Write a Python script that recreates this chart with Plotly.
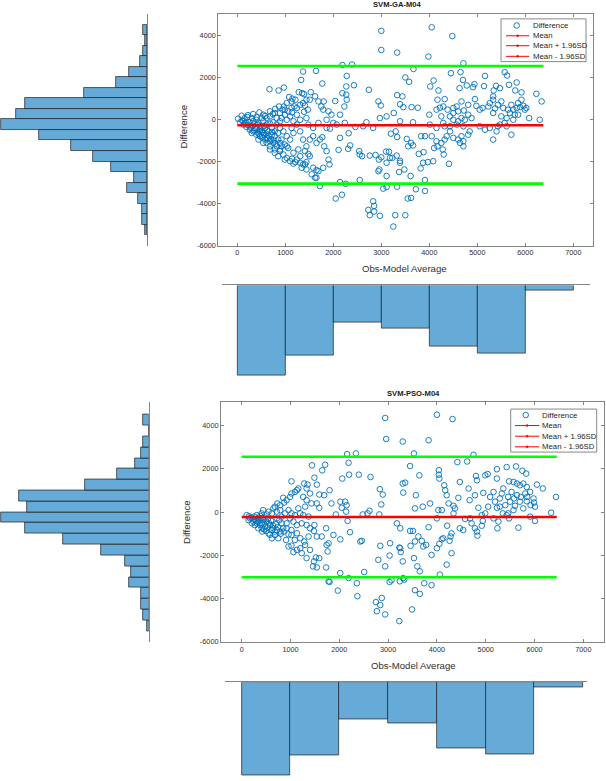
import plotly.graph_objects as go

W, H = 606, 781
FONT = "Liberation Sans, Arial, sans-serif"


def px(x):
    return x / W


def py(y):
    return 1 - y / H


# ------------------------------------------------------------------
# Panel 1 : SVM-GA-M04  (Bland-Altman: average vs difference)
# ------------------------------------------------------------------
ga_avg_upper = [3000, 4050, 4480, 3000, 3330, 3980, 4710, 2190, 2390, 3670,
                1640, 1370, 4450, 4650, 5570, 5620, 5160, 2280, 3500, 4090,
                4700, 3580, 1330, 1770, 5820, 2430, 2270, 4020, 4780, 4940,
                4910, 5140, 5390, 5660, 5470, 4630, 6230, 5340, 5790, 5920,
                4190, 2740, 670, 970, 860, 1530, 1280, 1350, 1390, 1080,
                1150, 1210, 1800, 2190, 2270, 2280, 2940, 3330, 3440, 3390,
                3630, 3760, 2990, 2230, 2040, 1750, 1410, 1470, 1390, 1140,
                1190, 970, 940, 790, 890, 740, 680, 580, 460, 330,
                220, 90, 15, 150, 210, 400, 540]
ga_diff_upper = [4200, 4370, 3950, 3290, 3170, 2980, 2660, 2580, 2600, 2390,
                 2300, 2270, 2190, 2240, 2240, 2080, 2060, 2060, 1990, 1840,
                 1870, 1780, 1870, 1700, 1750, 1620, 1560, 1560, 1610, 1670,
                 1530, 1580, 1590, 1640, 1480, 1480, 1210, 1370, 1370, 1280,
                 1370, 1400, 1430, 1510, 1370, 1290, 1290, 1240, 1200, 1060,
                 980, 930, 850, 1240, 1170, 930, 850, 1150, 1090, 720,
                 580, 550, 660, 610, 870, 610, 650, 460, 360, 330,
                 610, 610, 460, 500, 300, 250, 140, 160, 330, 250,
                 200, 170, 30, 60, 110, 110, 220]

ga_avg_right = [4170, 4320, 4290, 4220, 4380, 4430, 4250, 4150, 4000, 4500,
                4570, 4670, 4600, 4720, 4810, 4950, 4980, 5050, 5110, 5230,
                5260, 5330, 5330, 5370, 5430, 5500, 5540, 5640, 5710, 5750,
                5820, 5890, 5960, 5990, 5850, 5920, 6020, 6080, 6300, 6340,
                5680, 5610, 5570, 5470, 5430, 5610, 5400, 5330, 5710, 5260,
                5160, 5050, 4710, 4670, 4600, 4500, 4430, 4360, 4500, 4600,
                4710, 4670, 4810, 4840, 4710, 4640, 4570, 4430, 4320, 4290,
                4740, 4810, 4880, 4500, 5780, 5850, 5330, 5500, 5750]
ga_diff_right = [930, 960, 610, 550, 460, 140, 140, 460, 220, 300,
                 610, 850, 380, 420, 690, 960, 640, 460, 540, 610,
                 770, 1090, 930, 520, 690, 850, 540, 460, 690, 460,
                 540, 580, 640, 460, 770, 930, 540, 60, -20, 850,
                 300, 60, -170, -250, -330, -330, -570, -960, -730, -410,
                 -490, -330, -330, 60, -90, -20, -570, -800, -880, -960,
                 -1040, -800, -730, -570, -1280, -1120, -250, -330, -330, -170,
                 -20, 220, 60, 540, 220, 220, 300, 140, -20]

ga_avg_mid = [2830, 2620, 2690, 2460, 2240, 2070, 1930, 2140, 2320, 2540,
              2350, 2310, 2110, 2550, 2760, 2880, 2950, 3100, 3160, 3230,
              3200, 3300, 3330, 3390, 3530, 3560, 3620, 3660, 3780, 3880,
              3830, 3910, 3870, 3970, 3820, 3480, 3370, 3320, 3390, 3110,
              2940, 2960, 3110, 3610, 2550, 2260, 2140, 2180, 2050, 3040,
              3110, 3330, 3550, 3620, 3720, 3910, 3290, 3500, 2730, 2760,
              2850, 2830, 2970, 2850, 3250, 3000, 3180, 2600, 3910, 4080,
              4170, 4100, 4150, 4250, 4280, 4300, 4320, 4410, 4050, 4150,
              4010, 3390, 3660, 3110, 2970, 3460, 3260, 2140]
ga_diff_mid = [-410, -330, -140, -360, -170, -250, -440, -880, -660, -1510,
               -1240, -1400, -1450, -1670, -1720, -1690, -1910, -1530, -1540, -1830,
               -680, -570, -840, -1970, -930, -1280, -1120, -1240, -1640, -1560,
               -800, -800, -2060, -2030, -2330, -2380, -2500, -1720, -2060, -2060,
               -2460, -2380, -2690, -2690, -2880, -3060, -2980, -3580, -3760, -3290,
               -3210, -3200, -3760, -3730, -3320, -3400, -4550, -4550, -4300, -4550,
               -4110, -3890, -4580, -4380, -5090, -1800, -1830, -1750, -2880, -1990,
               -1280, -1360, -1040, -1120, -1430, -1670, -960, -2110, -800, -410,
               -250, -90, -140, 140, 60, 580, 300, 220]

ga_avg_left = [260, 370, 470, 540, 470, 610, 680, 750, 820, 780,
               890, 960, 1030, 1140, 1210, 1310, 1370, 1440, 1550, 1620,
               1650, 1720, 1650, 1510, 1480, 1410, 1270, 1170, 1060, 990,
               920, 850, 780, 720, 610, 540, 440, 330, 190, 130,
               470, 580, 650, 720, 780, 850, 920, 1030, 1100, 1170,
               1130, 1240, 1310, 1370, 1440, 1510, 1580, 1650, 1720, 1770,
               1810, 1860, 1900, 1920, 1790, 1690, 1580, 1410, 1340, 1440,
               1240, 1170, 1100, 1310, 990, 850, 890, 680, 610, 580,
               510, 400, 330, 260, 190, 130, 60, 300, 440, 540,
               680, 780, 890, 1030, 960, 890, 820, 750, 680]
ga_diff_left = [-330, -410, -570, -650, -800, -880, -1040, -1120, -1280, -1430,
                -1510, -1670, -1830, -1870, -2030, -2060, -2140, -2380, -2610, -2770,
                -2770, -3170, -2410, -1750, -1650, -1510, -1430, -1590, -1360, -1200,
                -960, -650, -570, -410, -250, -90, -170, -90, -170, -90,
                -330, -410, -570, -730, -800, -960, -1280, -1280, -960, -650,
                -410, -250, -570, -960, -1280, -960, -800, -1120, -960, -850,
                -1280, -1510, -1910, -2140, -2300, -2460, -2300, -2140, -2300, -2030,
                -1910, -2100, -1990, -1750, -1910, -1750, -1430, -1280, -1120, -960,
                -840, -730, -570, -490, -360, -250, -140, -650, -960, -1120,
                -1430, -1590, -1120, -800, -570, -410, -250, -140, -200]

ga_avg_near0 = [1030, 1100, 1170, 1240, 1310, 1440, 1480, 1580, 1690, 1860,
                1960, 2000, 1860, 890, 920, 820, 610, 510, 400, 300,
                680, 780, 990, 1060, 1130, 1240, 1310, 1370, 1440, 1510,
                1620, 1690, 1790, 1900, 1130, 1030, 990, 870,
                100, 160, 220, 280, 320, 350, 400, 420, 450, 480,
                500, 520, 560, 600, 620, 640, 660, 700, 720, 760,
                800, 360, 250, 560, 430]
ga_diff_near0 = [-20, 140, -90, 220, -20, 60, -250, -410, -170, -20,
                 220, -170, -410, -90, 60, 60, 60, 60, -20, 60,
                 380, 300, 220, 380, 540, 540, 690, 770, 930, 930,
                 1090, 850, 460, 380, 850, 770, 460, 610,
                 -60, -200, -280, -400, -300, -520, -450, -620, -700, -500,
                 -380, -600, -750, -680, -520, -900, -780, -950, -600, -1000,
                 -1150, -200, -130, -300, -250]

ga_mean, ga_loa_upper, ga_loa_lower = -280, 2530, -3050
ga_avg_max = 6375

diff_bin_centers = list(range(-5250, 4500, 500))
ga_diff_hist = [1, 3, 3, 5, 11, 7, 20, 30, 42, 60, 81, 73, 68, 35, 17, 10, 4, 2, 1, 2]
avg_bin_centers = [500, 1500, 2500, 3500, 4500, 5500, 6500]
ga_avg_hist = [114, 89, 47, 55, 78, 86, 6]

# ------------------------------------------------------------------
# Panel 2 : SVM-PSO-M04
# ------------------------------------------------------------------
pso_avg_upper = [2940, 4000, 4320, 2960, 3300, 3830, 2160, 2340, 3530, 4750,
                 4420, 4620, 1440, 1710, 2190, 1650, 3450, 4040, 4040, 4050,
                 3640, 2400, 2200, 2060, 2640, 1490, 1020, 1540, 1280, 1350,
                 4150, 4170, 4200, 4470, 4650, 4820, 4800, 4990, 5040, 5230,
                 5230, 5430, 5620, 5750, 5830, 6050, 6170, 6440, 6340, 5480,
                 5570, 5640, 5700, 5770, 5840, 5980, 5990, 6010, 6010, 5910,
                 5670, 5430, 5480, 5260, 5240, 5160, 4990, 4920, 4940, 4920,
                 4820, 4830, 4780, 4710, 4680, 4580, 4540, 4470, 4300, 4280,
                 4260, 4300, 4200, 4060, 4130, 4100, 4050, 4000, 4210, 4000,
                 4340, 4370, 4340, 4100, 4030, 4240, 4440, 4670, 4780, 4950,
                 5090, 5160, 5290, 5330, 5360, 5460, 5530, 5580, 5640, 5720,
                 5810, 5850, 5910, 5500, 5400, 5290, 5190, 5050, 4850, 5600,
                 5700, 5770, 5570, 5460, 5350, 5230, 5920, 5840]
pso_diff_upper = [4350, 4500, 4300, 3380, 3260, 3320, 2680, 2710, 2710, 2650,
                  2310, 2340, 2160, 2190, 2280, 1930, 2130, 1940, 1730, 1550,
                  1700, 1730, 1730, 1550, 1620, 1590, 1420, 1270, 1320, 1270,
                  1240, 1010, 780, 1390, 1090, 1470, 1670, 1700, 1760, 1980,
                  1550, 2080, 2110, 1910, 1780, 1270, 1090, 700, -30, 1420,
                  1390, 1320, 1240, 1320, 1160, 630, 440, 250, -410, -210,
                  -720, -140, -290, -440, -750, -290, -60, -140, -410, -630,
                  -900, -1090, -750, -520, -290, -320, -830, -750, -980, -1130,
                  -1330, -1900, -2430, -2890, -1210, -1260, -1470, -1670, -630, -290,
                  -60, 170, 290, 90, 90, 400, 660, 550, 780, 890,
                  700, 930, 630, 860, 1090, 700, 930, 630, 780, 700,
                  860, 700, 930, 480, 320, 250, 480, 250, 200, 290,
                  480, 170, 90, -60, -60, 200, 320, 500]

pso_avg_mid = [2020, 1970, 1800, 2190, 2360, 2370, 2510, 2770, 2750, 2870,
               2840, 2940, 3230, 3030, 3070, 3240, 3330, 3310, 3550, 3650,
               3740, 3890, 3490, 2800, 2840, 2940, 3040, 3030, 3230, 3250,
               3260, 3300, 3180, 3250, 3450, 3510, 3550, 3460, 3530, 3600,
               3650, 3620, 3690, 3720, 3780, 3890, 3830, 3710, 3860, 3570,
               3550, 3310, 3300, 3350, 2830, 2890, 2860, 2820, 2620, 2580,
               2480, 2460, 2430, 2220, 2170, 2140, 2150, 2120, 2050, 2020,
               2020, 1930, 1880, 1840, 1800, 1690, 1590, 1540, 1590, 1490,
               1480, 1540, 1640, 1730, 1740, 1760, 1780, 1730, 1780, 1590,
               1520, 1480, 1460, 1540]
pso_diff_mid = [-2820, -3630, -3230, -3050, -3290, -3890, -2770, -4580, -4160, -3970,
                -4300, -4730, -5040, -3230, -3150, -3200, -3120, -3050, -3610, -3780,
                -3290, -3380, -4500, -2210, -1560, -2510, -1440, -2010, -1640, -1670,
                -1850, -2280, -520, -750, -870, -870, -1360, -1560, -2130, -2510,
                -2740, -1130, -1330, -1590, -1520, -1980, -700, 250, 400, 780,
                170, 900, 1320, 1360, 1060, 810, 350, -110, 60, -60,
                -110, -1330, -1360, -930, -410, 20, 320, 480, 200, 480,
                -1260, -110, -1060, 400, 1010, 780, 810, 400, 200, -600,
                -870, -1130, -1130, -750, -1520, -1820, -1440, -2560, -3200, -2130,
                -2100, -2280, -2510, -2560]

pso_avg_left = [1330, 1230, 1300, 1400, 1200, 1130, 1060, 1020, 960, 910,
                960, 1020, 1130, 1200, 1280, 1370, 1400, 1330, 1230, 1130,
                1060, 990, 920, 850, 790, 750, 680, 620, 550, 500,
                410, 380, 310, 240, 170, 100, 260, 340, 440, 510,
                580, 650, 720, 620, 480, 410, 340, 270, 210, 140,
                310, 410, 510, 620, 720, 790, 680, 790, 870, 920,
                990, 1020, 1090, 1130, 1160, 850, 730, 650, 550, 440,
                890, 1020, 1160, 1200, 1300, 1330, 1260, 1400, 1330, 1430,
                1260, 1370, 1090, 960, 820, 720, 920, 1020, 1090, 820,
                200, 280, 330, 360, 400, 450, 470, 520, 560, 600,
                640, 700, 740, 770, 800, 860, 300, 380, 460, 540,
                580, 680, 240, 150, 420]
pso_diff_left = [-2130, -1900, -1520, -1750, -1670, -1750, -1850, -1550, -1590, -1290,
                 -1030, -1060, -980, -1210, -1360, -1130, -750, -600, -520, -600,
                 -440, -290, -520, -750, -900, -1210, -1060, -1210, -980, -870,
                 -750, -600, -520, -440, -290, -140, -210, -290, -370, -440,
                 -600, -750, -830, -830, -670, -520, -750, -600, -520, -370,
                 -140, -60, -110, -60, 20, 90, 250, 320, 440, 550,
                 700, 860, 930, 1010, 1090, 660, 400, 170, 20, 90,
                 -60, -60, 170, -60, 250, 550, 700, 860, 1090, 400,
                 -140, -210, -140, 90, -210, -290, -750, -830, -1290, -520,
                 -250, -330, -450, -380, -280, -550, -250, -700, -520, -400,
                 -620, -560, -700, -380, -1000, -900, -420, -180, -800, -300,
                 -1050, -900, -330, -200, -900]

pso_mean, pso_loa_upper, pso_loa_lower = -230, 2557, -3016
pso_avg_max = 6455

pso_diff_hist = [1, 3, 4, 4, 10, 9, 12, 24, 43, 62, 74, 61, 65, 32, 16, 7, 4, 3, 0, 3]
pso_avg_hist = [105, 83, 42, 46, 75, 82, 6]

x_tick_vals = [0, 1000, 2000, 3000, 4000, 5000, 6000, 7000]
x_tick_text = ["0", "1000", "2000", "3000", "4000", "5000", "6000", "7000"]
y_tick_vals = [-6000, -4000, -2000, 0, 2000, 4000]
y_tick_text = ["-6000", "-4000", "-2000", "0", "2000", "4000"]
legend_labels = ["Difference", "Mean", "Mean + 1.96SD", "Mean - 1.96SD"]

BLUE = "rgb(0,114,189)"
HIST_FILL = "rgb(102,170,215)"
HIST_EDGE = "#1e1e1e"
AXIS_GRAY = "#858585"
TEXT = "#303030"

fig = go.Figure()


def add_panel(sfx, avg, diff, mean, up, lo, avg_max, dh, ah):
    xs, ys = "x" + sfx[0], "y" + sfx[0]
    xl, yl = "x" + sfx[1], "y" + sfx[1]
    xb, yb = "x" + sfx[2], "y" + sfx[2]
    fig.add_trace(go.Scatter(x=avg, y=diff, mode="markers", xaxis=xs, yaxis=ys,
                             marker=dict(symbol="circle-open", size=5.6, color=BLUE,
                                         line=dict(width=0.9, color=BLUE))))
    for val, col in ((mean, "rgb(255,0,0)"), (up, "rgb(0,255,0)"), (lo, "rgb(0,255,0)")):
        fig.add_trace(go.Scatter(x=[0, avg_max], y=[val, val], mode="lines",
                                 xaxis=xs, yaxis=ys,
                                 line=dict(color=col, width=2.6)))
    fig.add_trace(go.Bar(y=diff_bin_centers, x=dh, orientation="h", width=500,
                         xaxis=xl, yaxis=yl,
                         marker=dict(color=HIST_FILL, line=dict(color=HIST_EDGE, width=0.7))))
    fig.add_trace(go.Bar(x=avg_bin_centers, y=ah, width=1000, xaxis=xb, yaxis=yb,
                         marker=dict(color=HIST_FILL, line=dict(color=HIST_EDGE, width=0.7))))


add_panel(["", "2", "3"], ga_avg_upper + ga_avg_right + ga_avg_mid + ga_avg_left + ga_avg_near0,
          ga_diff_upper + ga_diff_right + ga_diff_mid + ga_diff_left + ga_diff_near0,
          ga_mean, ga_loa_upper, ga_loa_lower, ga_avg_max, ga_diff_hist, ga_avg_hist)
add_panel(["4", "5", "6"], pso_avg_upper + pso_avg_mid + pso_avg_left,
          pso_diff_upper + pso_diff_mid + pso_diff_left,
          pso_mean, pso_loa_upper, pso_loa_lower, pso_avg_max, pso_diff_hist, pso_avg_hist)

tickfont = dict(family=FONT, size=7.3, color=TEXT)


def sc_x(domain, rng, anchor):
    return dict(domain=domain, range=rng, anchor=anchor, tickvals=x_tick_vals,
                ticktext=x_tick_text, ticks="inside", ticklen=3, tickwidth=0.8,
                tickcolor=AXIS_GRAY, showline=True, linecolor=AXIS_GRAY, linewidth=1,
                mirror="ticks", showgrid=False, zeroline=False, tickfont=tickfont)


def sc_y(domain, rng, anchor):
    return dict(domain=domain, range=rng, anchor=anchor, tickvals=y_tick_vals,
                ticktext=y_tick_text, ticks="inside", ticklen=3, tickwidth=0.8,
                tickcolor=AXIS_GRAY, showline=True, linecolor=AXIS_GRAY, linewidth=1,
                mirror="ticks", showgrid=False, zeroline=False, tickfont=tickfont)


hidden = dict(visible=False)

layout_axes = dict(
    # panel 1 scatter
    xaxis=sc_x([px(218.3), px(593)], [-396, 7410], "y"),
    yaxis=sc_y([py(247.3), py(14)], [-6000, 5005], "x"),
    # panel 1 left histogram
    xaxis2=dict(domain=[0, px(147)], range=[81.7, 0], anchor="y2", visible=False),
    yaxis2=dict(domain=[py(247.3), py(14)], range=[-6000, 5005], anchor="x2", side="right",
                showline=True, linecolor=AXIS_GRAY, linewidth=1, showticklabels=False,
                ticks="", showgrid=False, zeroline=False),
    # panel 1 bottom histogram
    xaxis3=dict(domain=[px(221.7), px(590)], range=[-325, 7348], anchor="y3", side="top",
                showline=True, linecolor=AXIS_GRAY, linewidth=1, showticklabels=False,
                ticks="", showgrid=False, zeroline=False),
    yaxis3=dict(domain=[py(382.3), py(287.3)], range=[119.9, 0], anchor="x3", visible=False),
    # panel 2 scatter
    xaxis4=sc_x([px(221), px(604.3)], [-424, 7430], "y4"),
    yaxis4=sc_y([py(646), py(405)], [-6000, 5070], "x4"),
    # panel 2 left histogram
    xaxis5=dict(domain=[0, px(148.7)], range=[74.7, 0], anchor="y5", visible=False),
    yaxis5=dict(domain=[py(646), py(405)], range=[-6000, 5070], anchor="x5", side="right",
                showline=True, linecolor=AXIS_GRAY, linewidth=1, showticklabels=False,
                ticks="", showgrid=False, zeroline=False),
    # panel 2 bottom histogram
    xaxis6=dict(domain=[px(225), px(586.7)], range=[-342, 7070], anchor="y6", side="top",
                showline=True, linecolor=AXIS_GRAY, linewidth=1, showticklabels=False,
                ticks="", showgrid=False, zeroline=False),
    yaxis6=dict(domain=[0, py(686.7)], range=[106.1, 0], anchor="x6", visible=False),
)

annotations = []
shapes = []


def text(x, y, s, size, bold=False, angle=0, anchor="center", color=TEXT):
    annotations.append(dict(x=px(x), y=py(y), xref="paper", yref="paper", text=s,
                            showarrow=False, xanchor=anchor, yanchor="middle",
                            textangle=angle, borderpad=0,
                            font=dict(family=FONT, size=size, color=color,
                                      weight="bold" if bold else "normal")))


def legend(box, rows, circ_x, lx0, lx1, tx):
    x0, x1, y0, y1 = box
    shapes.append(dict(type="rect", xref="paper", yref="paper", x0=px(x0), x1=px(x1),
                       y0=py(y1), y1=py(y0), fillcolor="white",
                       line=dict(color="#7a7a7a", width=0.9), layer="above"))
    r = 2.8
    shapes.append(dict(type="circle", xref="paper", yref="paper",
                       x0=px(circ_x - r), x1=px(circ_x + r), y0=py(rows[0] + r), y1=py(rows[0] - r),
                       line=dict(color=BLUE, width=0.9), layer="above"))
    for yy in rows[1:]:
        shapes.append(dict(type="line", xref="paper", yref="paper", x0=px(lx0), x1=px(lx1),
                           y0=py(yy), y1=py(yy), line=dict(color="rgb(255,0,0)", width=1),
                           layer="above"))
        cx = (lx0 + lx1) / 2
        shapes.append(dict(type="circle", xref="paper", yref="paper",
                           x0=px(cx - 1), x1=px(cx + 1), y0=py(yy + 1), y1=py(yy - 1),
                           fillcolor="rgb(255,0,0)", line=dict(color="rgb(255,0,0)", width=0.5),
                           layer="above"))
    for yy, lab in zip(rows, legend_labels):
        text(tx, yy, lab, 7.8, anchor="left", color="#262626")


# panel 1 texts
text(397, 5, "SVM-GA-M04", 7.6, bold=True, color="#202020")
text(404, 270, "Obs-Model Average", 9.6)
text(183.3, 127, "Difference", 9.6, angle=-90)
legend((501, 586, 19, 62), [25.7, 36, 46, 56.7], 516.7, 506, 529.3, 531.7)

# panel 2 texts
text(413, 396, "SVM-PSO-M04", 7.6, bold=True, color="#202020")
text(413, 670, "Obs-Model Average", 9.6)
text(186.7, 525.7, "Difference", 9.6, angle=-90)
legend((510.7, 596.7, 411.7, 455), [417.7, 428.3, 439, 449.7], 525.7, 515, 539.3, 540.7)

fig.update_layout(width=W, height=H, margin=dict(l=0, r=0, t=0, b=0),
                  paper_bgcolor="white", plot_bgcolor="white", showlegend=False,
                  bargap=0, annotations=annotations, shapes=shapes, **layout_axes)

fig.write_html("out.html")
